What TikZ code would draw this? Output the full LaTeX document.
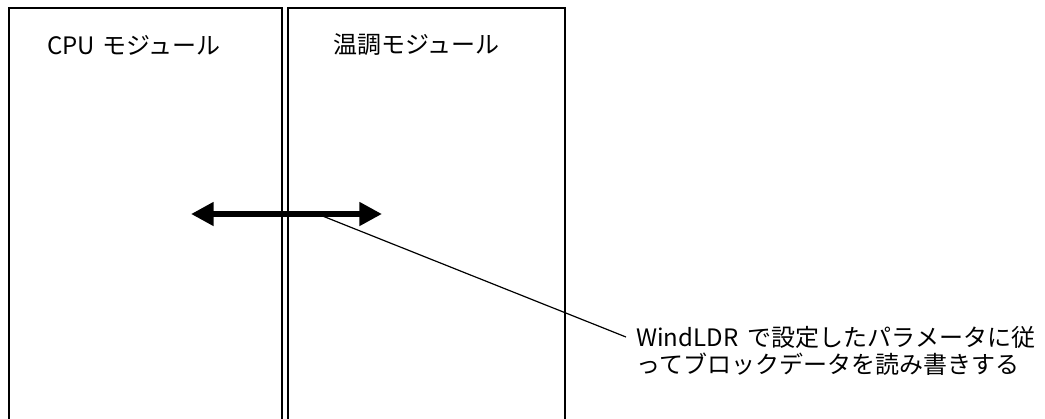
\documentclass[tikz,border=0pt]{standalone}
\usepackage{fontspec}
\setmainfont{Noto Sans CJK JP}
\usepackage{tikz}
\usetikzlibrary{arrows.meta,positioning}

\begin{document}
\begin{tikzpicture}[x=0.75pt,y=-0.75pt,>=Triangle,
    modbox/.style={draw,line width=1.1pt,inner sep=0pt},
    modlabel/.style={anchor=west,inner sep=0pt,font=\fontsize{18pt}{20pt}\selectfont}]
  \useasboundingbox (0,0) rectangle (1045,418);
  \clip (0,0) rectangle (1045,418);
  \node[modbox,minimum width=273*0.75pt,minimum height=430*0.75pt] (cpu) at (145.5,223) {};
  \node[modbox,minimum width=277*0.75pt,minimum height=430*0.75pt] (temp) at (426.5,223) {};
  \node[modlabel] (cpulbl) at (47,45) {CPU\hspace{0.3em}モジュール};
  \node[modlabel] (templbl) at (333,45) {温調モジュール};
  \coordinate (al) at (191,214);
  \coordinate (ar) at (382,214);
  \draw[line width=5.2pt,{Triangle[length=17pt,width=17pt]}-{Triangle[length=17pt,width=17pt]}] (al)--(ar);
  \coordinate (tap) at (320,215);
  \coordinate (lead) at (626,337);
  \draw[line width=0.9pt] (tap)--(lead);
  \node[modlabel,align=left] (note) at (636,351) {WindLDR\hspace{0.4em}で設定したパラメータに従\\ってブロックデータを読み書きする};
\end{tikzpicture}
\end{document}
